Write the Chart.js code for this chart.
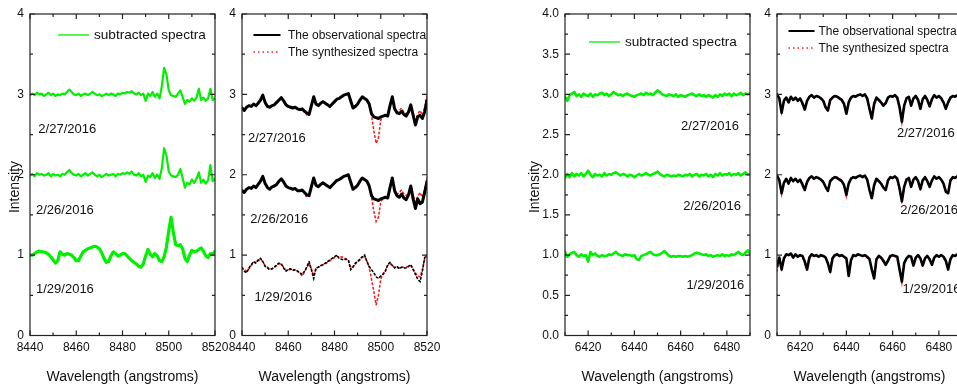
<!DOCTYPE html>
<html>
<head>
<meta charset="utf-8">
<script src="https://cdn.jsdelivr.net/npm/chart.js@4.4.1/dist/chart.umd.min.js"></script>
<style>
  html, body { margin: 0; padding: 0; background: #fff; width: 957px; height: 392px; overflow: hidden; position: relative; }
  canvas { position: absolute; left: 0; top: 0; }
</style>
</head>
<body>
<canvas id="p1" width="980" height="392"></canvas>
<canvas id="p2" width="980" height="392"></canvas>
<canvas id="p3" width="980" height="392"></canvas>
<canvas id="p4" width="980" height="392"></canvas>
<script>
// ---- wavelength grids (angstroms) ----
const wlCa = [8440,8441,8442,8443,8444,8445,8446,8447,8448,8449,
  8450,8451,8452,8453,8454,8455,8456,8457,8458,8459,
  8460,8461,8462,8463,8464,8465,8466,8467,8468,8469,
  8470,8471,8472,8473,8474,8475,8476,8477,8478,8479,
  8480,8481,8482,8483,8484,8485,8486,8487,8488,8489,
  8490,8491,8492,8493,8494,8495,8496,8497,8498,8499,
  8500,8501,8502,8503,8504,8505,8506,8507,8508,8509,
  8510,8511,8512,8513,8514,8515,8516,8517,8518,8519,8520];
const wlHa = [6410,6411,6412,6413,6414,6415,6416,6417,6418,6419,
  6420,6421,6422,6423,6424,6425,6426,6427,6428,6429,
  6430,6431,6432,6433,6434,6435,6436,6437,6438,6439,
  6440,6441,6442,6443,6444,6445,6446,6447,6448,6449,
  6450,6451,6452,6453,6454,6455,6456,6457,6458,6459,
  6460,6461,6462,6463,6464,6465,6466,6467,6468,6469,
  6470,6471,6472,6473,6474,6475,6476,6477,6478,6479,
  6480,6481,6482,6483,6484,6485,6486,6487,6488,6489,6490];

const dates = ['2/27/2016', '2/26/2016', '1/29/2016'];

// ---- tick values ----
const caTicks = [8440, 8460, 8480, 8500, 8520];
const haTicks = [6420, 6440, 6460, 6480];
const intTicks = [0, 1, 2, 3, 4];
const halfTicks = [0, 0.5, 1, 1.5, 2, 2.5, 3, 3.5, 4];

// ---- Ca II region: subtracted spectra (offset by night) ----
const caSub0227 = [2.99,3.01,2.99,3.02,3.00,3.01,2.98,3.00,3.02,2.99,
  3.01,2.98,3.00,2.99,3.01,3.00,3.03,3.06,3.03,3.00,
  2.99,3.01,2.98,3.00,3.01,2.99,3.01,3.03,3.01,2.99,
  3.00,2.98,2.99,3.01,2.99,3.01,3.00,2.98,3.01,3.00,
  3.02,3.01,3.03,3.02,3.04,3.01,3.00,3.02,2.99,3.01,
  2.92,3.01,2.98,3.03,2.97,3.01,2.95,3.10,3.33,3.25,
  3.05,2.99,2.98,2.97,3.01,3.05,2.97,2.88,2.93,2.91,
  2.95,2.92,2.96,3.07,2.93,2.96,2.92,2.95,3.07,2.93,2.95];
const caSub0226 = [1.99,2.01,1.98,2.02,2.00,2.01,1.99,2.00,2.02,1.98,
  2.01,1.99,2.00,1.98,2.01,2.00,2.03,2.06,2.02,2.00,
  1.99,2.01,1.98,2.00,2.02,1.99,2.01,2.03,2.00,1.98,
  2.00,1.97,1.99,2.01,1.99,2.00,2.01,1.98,2.01,2.00,
  2.02,2.01,2.03,2.01,2.04,2.00,1.99,2.02,1.98,2.00,
  1.91,1.99,1.97,2.02,1.96,2.00,1.95,2.08,2.33,2.24,
  2.04,1.99,1.98,1.97,2.00,2.07,1.96,1.84,1.90,1.88,
  1.94,1.90,1.95,2.03,1.90,1.94,1.89,1.93,2.12,1.92,1.95];
const caSub0129 = [1.00,1.00,1.02,1.04,1.05,1.04,1.04,1.03,1.01,0.98,
  0.94,0.90,0.93,1.04,1.01,1.00,1.02,1.01,1.00,0.97,
  0.93,0.93,0.99,1.04,1.06,1.08,1.09,1.10,1.11,1.10,
  1.08,1.03,0.96,0.91,0.92,0.99,1.04,1.02,0.99,1.00,
  1.02,1.02,0.99,0.96,0.93,0.91,0.89,0.86,0.85,0.89,
  0.99,1.07,1.01,0.98,1.02,0.99,0.93,0.92,0.98,1.10,
  1.30,1.47,1.28,1.13,1.12,1.13,1.08,0.96,0.92,1.00,
  1.06,1.04,1.05,1.07,1.09,1.05,0.99,0.97,1.02,1.01,1.05];

// ---- Ca II region: observed and synthesized spectra ----
const caObs0227 = [2.83,2.80,2.84,2.86,2.85,2.88,2.86,2.89,2.93,2.99,
  2.90,2.85,2.84,2.86,2.87,2.90,2.93,2.96,2.92,2.87,
  2.85,2.84,2.83,2.84,2.82,2.81,2.82,2.79,2.77,2.75,
  2.86,2.97,2.88,2.86,2.89,2.91,2.89,2.87,2.85,2.88,
  2.91,2.94,2.95,2.97,2.99,3.00,3.01,2.92,2.83,2.85,
  2.88,2.93,2.97,2.95,2.93,2.88,2.76,2.72,2.71,2.70,
  2.72,2.73,2.74,2.73,2.86,2.97,2.82,2.77,2.76,2.79,
  2.75,2.73,2.78,2.87,2.74,2.62,2.72,2.74,2.70,2.78,2.93];
const caSyn0227 = [2.84,2.82,2.84,2.85,2.86,2.87,2.87,2.90,2.94,2.98,
  2.91,2.86,2.85,2.85,2.88,2.90,2.92,2.95,2.92,2.88,
  2.85,2.84,2.84,2.83,2.83,2.81,2.81,2.80,2.74,2.76,
  2.86,2.96,2.89,2.87,2.88,2.90,2.90,2.87,2.86,2.88,
  2.90,2.93,2.95,2.96,2.98,3.00,3.00,2.93,2.84,2.86,
  2.88,2.92,2.96,2.95,2.92,2.87,2.74,2.55,2.39,2.46,
  2.68,2.73,2.74,2.75,2.85,2.95,2.84,2.78,2.80,2.83,
  2.78,2.76,2.79,2.85,2.76,2.68,2.75,2.80,2.74,2.84,2.98];
const caObs0226 = [1.80,1.78,1.82,1.84,1.83,1.86,1.84,1.88,1.92,1.98,
  1.89,1.84,1.82,1.85,1.86,1.88,1.92,1.95,1.91,1.86,
  1.84,1.83,1.82,1.83,1.80,1.80,1.81,1.78,1.75,1.74,
  1.85,1.96,1.87,1.85,1.88,1.90,1.88,1.86,1.84,1.87,
  1.90,1.93,1.94,1.96,1.98,1.99,2.00,1.91,1.82,1.84,
  1.87,1.92,1.96,1.94,1.92,1.86,1.74,1.70,1.69,1.68,
  1.70,1.71,1.72,1.71,1.84,1.96,1.80,1.74,1.72,1.76,
  1.71,1.69,1.75,1.86,1.70,1.58,1.70,1.64,1.66,1.78,1.92];
const caSyn0226 = [1.81,1.80,1.82,1.84,1.84,1.86,1.86,1.89,1.93,1.97,
  1.90,1.85,1.84,1.84,1.87,1.89,1.91,1.94,1.91,1.87,
  1.84,1.83,1.83,1.82,1.81,1.80,1.80,1.78,1.72,1.76,
  1.86,1.95,1.88,1.86,1.87,1.89,1.89,1.86,1.85,1.87,
  1.89,1.92,1.94,1.95,1.97,1.99,1.99,1.92,1.83,1.85,
  1.87,1.91,1.95,1.94,1.91,1.86,1.72,1.55,1.42,1.47,
  1.66,1.71,1.72,1.73,1.83,1.94,1.82,1.76,1.78,1.81,
  1.76,1.74,1.77,1.83,1.74,1.66,1.73,1.78,1.72,1.82,1.96];
const caObs0129 = [0.84,0.80,0.78,0.84,0.88,0.92,0.90,0.94,0.96,0.92,
  0.86,0.84,0.82,0.83,0.85,0.88,0.90,0.89,0.84,0.80,
  0.82,0.83,0.81,0.82,0.80,0.78,0.76,0.80,0.85,0.92,
  0.82,0.71,0.84,0.85,0.87,0.88,0.90,0.92,0.94,0.96,
  0.98,1.00,0.96,0.95,0.94,0.95,0.94,0.82,0.85,0.90,
  0.92,0.95,0.98,1.00,0.92,0.86,0.82,0.78,0.73,0.71,
  0.74,0.76,0.80,0.88,0.91,0.87,0.84,0.86,0.83,0.85,
  0.84,0.84,0.86,0.88,0.82,0.76,0.70,0.67,0.80,0.97,0.99];
const caSyn0129 = [0.85,0.82,0.80,0.83,0.87,0.91,0.91,0.93,0.95,0.92,
  0.87,0.85,0.83,0.83,0.85,0.87,0.89,0.89,0.85,0.81,
  0.82,0.82,0.82,0.81,0.80,0.78,0.74,0.79,0.84,0.90,
  0.83,0.74,0.83,0.85,0.86,0.88,0.89,0.91,0.93,0.95,
  0.97,0.99,0.97,0.98,0.97,0.95,0.93,0.84,0.86,0.89,
  0.92,0.94,0.97,0.99,0.93,0.85,0.70,0.55,0.38,0.50,
  0.70,0.77,0.81,0.87,0.90,0.87,0.85,0.85,0.84,0.85,
  0.85,0.85,0.86,0.87,0.83,0.78,0.74,0.73,0.82,0.95,1.00];

// ---- H-alpha region: subtracted spectra ----
const haSub0227 = [2.97,2.92,2.99,3.01,3.03,2.98,3.00,2.97,3.01,2.99,
  2.98,3.01,2.97,3.00,2.99,3.01,3.02,2.99,3.01,2.98,
  3.00,3.03,3.01,2.99,3.00,2.98,3.00,3.01,2.99,2.98,
  2.97,2.99,3.00,3.01,2.99,3.02,3.00,3.01,2.99,3.02,
  3.05,3.03,3.00,2.99,2.98,3.00,2.99,2.98,3.00,2.97,
  2.99,2.98,2.97,2.99,3.00,3.01,2.99,2.98,3.00,2.98,
  2.99,2.97,2.99,2.98,2.96,2.99,2.97,3.00,2.98,3.01,
  2.99,3.01,2.98,3.01,2.99,3.00,3.02,2.99,3.01,3.00,3.01];
const haSub0226 = [1.96,2.01,1.97,2.02,1.98,2.01,1.99,2.02,1.98,2.01,
  2.05,2.00,1.97,2.01,1.99,2.00,1.98,2.02,1.99,2.01,
  2.00,2.02,2.03,2.01,1.99,2.01,2.00,1.98,2.00,1.99,
  1.97,1.99,2.01,1.99,2.00,2.02,2.00,1.99,2.01,2.02,
  2.04,2.01,1.99,1.98,2.00,1.99,1.98,1.99,1.98,2.00,
  1.99,1.98,2.00,1.99,2.01,1.98,2.00,2.01,1.98,2.00,
  1.99,2.01,1.98,2.00,1.97,2.01,1.99,2.02,1.99,2.01,
  2.00,2.02,1.99,2.01,2.00,2.02,1.99,2.01,2.03,2.00,2.01];
const haSub0129 = [1.04,0.98,1.01,1.03,1.04,1.00,0.98,1.01,0.99,1.00,
  0.92,1.04,1.00,1.02,0.99,0.98,1.00,0.99,0.99,1.01,
  1.00,1.02,1.04,1.01,1.00,0.99,1.01,1.00,1.00,0.99,
  1.00,0.95,0.94,0.99,1.00,1.01,1.03,1.04,1.01,1.00,
  1.00,1.01,1.03,1.05,1.02,0.99,0.98,0.99,0.98,0.99,
  0.99,0.98,0.99,0.98,0.99,1.00,1.02,1.03,1.02,1.01,
  1.00,1.01,0.99,1.00,0.98,0.99,1.00,0.99,1.01,0.99,
  1.00,0.99,1.01,1.00,1.02,1.04,1.01,1.00,1.03,1.06,1.02];

// ---- H-alpha region: observed and synthesized spectra ----
const haObs0227 = [3.00,2.95,2.77,2.92,2.96,2.90,2.97,2.93,2.96,2.92,
  2.95,2.89,2.81,2.92,2.97,2.99,2.96,2.98,2.97,2.95,
  2.92,2.84,2.80,2.93,2.96,2.98,2.97,2.95,2.93,2.88,
  2.76,2.90,2.96,2.98,2.97,2.99,3.00,2.98,3.00,2.95,
  2.82,2.70,2.88,2.96,2.93,2.90,2.86,2.89,2.96,2.98,
  2.97,2.99,2.96,2.84,2.66,2.86,2.95,2.97,2.86,2.95,
  2.98,2.93,2.82,2.94,2.98,2.93,2.85,2.94,2.99,2.96,
  2.98,2.95,2.90,2.82,2.90,2.96,2.98,2.97,2.99,2.98,3.00];
const haSyn0227 = [3.00,2.96,2.78,2.93,2.97,2.92,2.96,2.94,2.95,2.93,
  2.94,2.88,2.82,2.93,2.97,2.98,2.97,2.98,2.96,2.95,
  2.93,2.85,2.79,2.92,2.97,2.98,2.98,2.96,2.94,2.89,
  2.75,2.91,2.97,2.98,2.98,2.99,2.99,2.99,2.99,2.94,
  2.81,2.69,2.89,2.95,2.94,2.91,2.87,2.90,2.95,2.98,
  2.98,2.98,2.95,2.83,2.65,2.87,2.96,2.96,2.87,2.94,
  2.97,2.94,2.83,2.93,2.97,2.94,2.86,2.93,2.98,2.97,
  2.97,2.96,2.91,2.83,2.91,2.95,2.97,2.98,2.98,2.99,2.99];
const haObs0226 = [1.99,1.93,1.77,1.90,1.95,1.89,1.96,1.92,1.95,1.91,
  1.94,1.88,1.81,1.91,1.96,1.98,1.95,1.97,1.96,1.94,
  1.91,1.85,1.80,1.92,1.95,1.97,1.96,1.94,1.92,1.87,
  1.75,1.89,1.95,1.97,1.96,1.98,1.99,1.97,1.99,1.94,
  1.81,1.71,1.87,1.95,1.92,1.89,1.84,1.81,1.93,1.97,
  1.96,1.98,1.95,1.83,1.67,1.85,1.94,1.96,1.85,1.94,
  1.97,1.92,1.82,1.93,1.97,1.92,1.85,1.93,1.98,1.95,
  1.97,1.94,1.89,1.79,1.77,1.93,1.97,1.96,1.98,1.97,1.99];
const haSyn0226 = [1.99,1.94,1.76,1.91,1.95,1.90,1.95,1.93,1.94,1.92,
  1.93,1.87,1.80,1.92,1.96,1.97,1.96,1.97,1.95,1.94,
  1.92,1.84,1.79,1.91,1.96,1.97,1.97,1.95,1.93,1.88,
  1.74,1.90,1.96,1.97,1.97,1.98,1.98,1.98,1.98,1.93,
  1.80,1.69,1.88,1.94,1.93,1.90,1.85,1.82,1.92,1.97,
  1.97,1.97,1.94,1.82,1.64,1.86,1.95,1.95,1.86,1.93,
  1.96,1.93,1.83,1.92,1.96,1.93,1.86,1.92,1.97,1.96,
  1.96,1.95,1.90,1.80,1.78,1.92,1.96,1.97,1.97,1.98,1.99];
const haObs0129 = [0.86,0.97,0.82,0.96,1.01,1.00,1.02,0.97,1.01,0.98,
  1.00,0.99,0.92,0.82,0.97,1.01,0.99,1.00,0.98,1.00,
  0.99,0.97,0.90,0.79,0.96,1.00,1.01,0.99,1.00,0.98,
  0.96,0.74,0.94,1.00,0.99,1.01,1.00,0.99,1.00,0.98,
  0.95,0.82,0.71,0.95,0.99,0.97,0.93,0.88,0.93,0.99,
  1.00,0.99,0.98,0.82,0.67,0.90,0.96,0.99,0.98,0.87,
  0.97,1.00,0.96,0.87,0.96,0.99,0.95,0.88,0.97,1.00,
  0.98,1.00,0.98,0.93,0.82,0.95,1.00,0.99,1.01,0.99,1.00];
const haSyn0129 = [0.80,0.96,0.83,0.95,1.00,1.00,1.01,0.98,1.00,0.98,
  0.99,0.98,0.91,0.83,0.96,1.00,0.99,0.99,0.98,0.99,
  0.99,0.97,0.89,0.80,0.96,0.99,1.00,0.99,0.99,0.98,
  0.95,0.75,0.93,0.99,0.99,1.00,1.00,0.99,0.99,0.97,
  0.94,0.81,0.72,0.94,0.98,0.96,0.92,0.89,0.94,0.98,
  0.99,0.99,0.97,0.83,0.66,0.89,0.96,0.98,0.97,0.88,
  0.97,0.99,0.95,0.88,0.96,0.98,0.94,0.89,0.96,0.99,
  0.98,0.99,0.97,0.92,0.83,0.94,0.99,0.99,1.00,0.99,1.00];

// ---- drawing helpers ----
const FONT = "'Liberation Sans', Arial, Helvetica, sans-serif";
const W = 980, H = 392, X_AXIS_H = 56;
const GREEN = '#00f000', BLACK = '#000000', RED = '#ff1a1a';

Chart.defaults.font.family = FONT;
Chart.defaults.color = '#111';

function pts(wl, vals) { return wl.map((x, i) => ({ x: x, y: vals[i] })); }

function solid(wl, vals, color, width) {
  return { data: pts(wl, vals), borderColor: color, borderWidth: width, pointRadius: 0,
           tension: 0, fill: false, borderJoinStyle: 'round', borderCapStyle: 'round' };
}
function dotted(wl, vals, color, width, dash) {
  return { data: pts(wl, vals), borderColor: color, borderWidth: width, pointRadius: 0,
           tension: 0, fill: false, borderDash: dash, borderCapStyle: 'round' };
}

// frame with inward ticks on all four sides
const framePlugin = {
  id: 'frame',
  afterDatasetsDraw(chart, args, o) {
    const { ctx, chartArea: a, scales: { x, y } } = chart;
    ctx.save();
    ctx.strokeStyle = '#222';
    ctx.lineWidth = 1.2;
    ctx.strokeRect(a.left, a.top, a.right - a.left, a.bottom - a.top);
    ctx.beginPath();
    const isMajor = (v, list) => list.some(t => Math.abs(t - v) < 1e-6);
    for (let v = x.min; v <= x.max + 1e-6; v += o.xStep) {
      const px = x.getPixelForValue(v);
      const len = isMajor(v, o.xMajor) ? 5 : 3;
      ctx.moveTo(px, a.bottom); ctx.lineTo(px, a.bottom - len);
      ctx.moveTo(px, a.top); ctx.lineTo(px, a.top + len);
    }
    for (let v = y.min; v <= y.max + 1e-6; v += o.yStep) {
      const py = y.getPixelForValue(v);
      const len = isMajor(v, o.yMajor) ? 5 : 3;
      ctx.moveTo(a.left, py); ctx.lineTo(a.left + len, py);
      ctx.moveTo(a.right, py); ctx.lineTo(a.right - len, py);
    }
    ctx.stroke();
    ctx.restore();
  }
};

// legend samples, night labels and the vertical axis title
const notesPlugin = {
  id: 'notes',
  afterDatasetsDraw(chart, args, o) {
    const { ctx, chartArea: a, scales: { x, y } } = chart;
    ctx.save();
    (o.legend || []).forEach(it => {
      const yy = a.top + it.dy;
      ctx.beginPath();
      ctx.strokeStyle = it.color;
      ctx.lineWidth = it.width;
      ctx.setLineDash(it.dash || []);
      ctx.moveTo(a.left + it.x1, yy);
      ctx.lineTo(a.left + it.x2, yy);
      ctx.stroke();
      ctx.setLineDash([]);
      ctx.fillStyle = '#111';
      ctx.font = it.size + 'px ' + FONT;
      ctx.textAlign = 'left';
      ctx.textBaseline = 'middle';
      ctx.fillText(it.text, a.left + it.tx, yy + 0.5);
    });
    (o.labels || []).forEach(it => {
      ctx.fillStyle = '#111';
      ctx.font = '13px ' + FONT;
      ctx.textAlign = it.align;
      ctx.textBaseline = 'middle';
      ctx.fillText(it.text, x.getPixelForValue(it.x), y.getPixelForValue(it.y));
    });
    if (o.yTitle) {
      ctx.translate(o.yTitle.x, o.yTitle.y);
      ctx.rotate(-Math.PI / 2);
      ctx.font = '14px ' + FONT;
      ctx.fillStyle = '#111';
      ctx.textAlign = 'center';
      ctx.textBaseline = 'middle';
      ctx.fillText('Intensity', 0, 0);
    }
    ctx.restore();
  }
};

function makePanel(id, p) {
  const xTicks = p.xTicks, yTicks = p.yTicks;
  new Chart(document.getElementById(id), {
    type: 'line',
    data: { datasets: p.datasets },
    options: {
      responsive: false, animation: false, devicePixelRatio: 1,
      layout: { padding: { left: p.box.l - p.yw, right: W - p.box.r, top: p.box.t, bottom: H - p.box.b - X_AXIS_H } },
      plugins: {
        legend: { display: false }, tooltip: { enabled: false },
        frame: { xStep: 10, xMajor: xTicks, yStep: p.yMinor, yMajor: yTicks },
        notes: { legend: p.legend, labels: p.labels, yTitle: p.yTitle }
      },
      scales: {
        x: {
          type: 'linear', position: 'bottom', min: p.xMin, max: p.xMax,
          grid: { display: false, drawTicks: false, tickLength: 0 },
          border: { display: false },
          afterBuildTicks: s => { s.ticks = xTicks.map(v => ({ value: v })); },
          afterFit: s => { s.height = X_AXIS_H; },
          ticks: { padding: 5, maxRotation: 0, autoSkip: false, color: '#111', font: { size: 12 },
                   callback: v => String(v) },
          title: { display: true, text: 'Wavelength (angstroms)', color: '#111',
                   font: { size: 14 }, padding: { top: 0, bottom: 6 } }
        },
        y: {
          type: 'linear', min: 0, max: 4,
          grid: { display: false, drawTicks: false, tickLength: 0 },
          border: { display: false },
          afterBuildTicks: s => { s.ticks = yTicks.map(v => ({ value: v })); },
          afterFit: s => { s.width = p.yw; },
          ticks: { padding: 6, color: '#111', font: { size: 12 },
                   callback: v => p.yFmt ? Number(v).toFixed(1) : String(v) }
        }
      }
    },
    plugins: [framePlugin, notesPlugin]
  });
}

// Ca II subtracted spectra
makePanel('p1', {
  box: { l: 30, r: 215, t: 14, b: 335.5 }, yw: 30,
  xMin: 8440, xMax: 8520, xTicks: caTicks, yTicks: intTicks, yMinor: 0.5,
  yTitle: { x: 15, y: 187 },
  datasets: [
    solid(wlCa, caSub0227, GREEN, 2.2),
    solid(wlCa, caSub0226, GREEN, 2.2),
    solid(wlCa, caSub0129, GREEN, 3.2)
  ],
  legend: [{ x1: 28, x2: 59, dy: 21, width: 1.3, color: GREEN, text: 'subtracted spectra', tx: 64, size: 13.6 }],
  labels: [
    { text: dates[0], x: 8443.6, y: 2.565, align: 'left' },
    { text: dates[1], x: 8442.6, y: 1.553, align: 'left' },
    { text: dates[2], x: 8442.6, y: 0.575, align: 'left' }
  ]
});

// Ca II observed vs synthesized (observed drawn on top)
makePanel('p2', {
  box: { l: 242, r: 427, t: 14, b: 335.5 }, yw: 25,
  xMin: 8440, xMax: 8520, xTicks: caTicks, yTicks: intTicks, yMinor: 0.5,
  datasets: [
    solid(wlCa, caObs0227, BLACK, 3),
    solid(wlCa, caObs0226, BLACK, 3),
    dotted(wlCa, caObs0129, BLACK, 1.6, [1.6, 2.6]),
    dotted(wlCa, caSyn0227, RED, 1.6, [1.5, 3]),
    dotted(wlCa, caSyn0226, RED, 1.6, [1.5, 3]),
    dotted(wlCa, caSyn0129, RED, 1.6, [1.5, 3])
  ],
  legend: [
    { x1: 11.5, x2: 38.5, dy: 21, width: 2, color: BLACK, text: 'The observational spectra', tx: 46, size: 12 },
    { x1: 11.5, x2: 38.5, dy: 38, width: 1.6, color: RED, dash: [1.5, 3], text: 'The synthesized spectra', tx: 46, size: 12 }
  ],
  labels: [
    { text: dates[0], x: 8442.6, y: 2.455, align: 'left' },
    { text: dates[1], x: 8443.6, y: 1.448, align: 'left' },
    { text: dates[2], x: 8445.4, y: 0.478, align: 'left' }
  ]
});

// H-alpha subtracted spectra
makePanel('p3', {
  box: { l: 565, r: 750, t: 14, b: 335.5 }, yw: 40, yFmt: true,
  xMin: 6410, xMax: 6490, xTicks: haTicks, yTicks: halfTicks, yMinor: 0.25,
  yTitle: { x: 535, y: 187 },
  datasets: [
    solid(wlHa, haSub0227, GREEN, 2.6),
    solid(wlHa, haSub0226, GREEN, 2.6),
    solid(wlHa, haSub0129, GREEN, 2.6)
  ],
  legend: [{ x1: 24, x2: 55, dy: 28, width: 1.3, color: GREEN, text: 'subtracted spectra', tx: 60, size: 13.6 }],
  labels: [
    { text: dates[0], x: 6485.2, y: 2.60, align: 'right' },
    { text: dates[1], x: 6486.1, y: 1.604, align: 'right' },
    { text: dates[2], x: 6487.5, y: 0.628, align: 'right' }
  ]
});

// H-alpha observed vs synthesized (observed drawn on top)
makePanel('p4', {
  box: { l: 777, r: 962, t: 14, b: 335.5 }, yw: 25,
  xMin: 6410, xMax: 6490, xTicks: haTicks, yTicks: intTicks, yMinor: 0.5,
  datasets: [
    solid(wlHa, haObs0227, BLACK, 2.6),
    solid(wlHa, haObs0226, BLACK, 2.6),
    solid(wlHa, haObs0129, BLACK, 2.6),
    dotted(wlHa, haSyn0227, RED, 1.6, [1.5, 3]),
    dotted(wlHa, haSyn0226, RED, 1.6, [1.5, 3]),
    dotted(wlHa, haSyn0129, RED, 1.6, [1.5, 3])
  ],
  legend: [
    { x1: 11.5, x2: 37.5, dy: 17, width: 2, color: BLACK, text: 'The observational spectra', tx: 41.5, size: 12 },
    { x1: 11.5, x2: 37.5, dy: 34, width: 1.6, color: RED, dash: [1.5, 3], text: 'The synthesized spectra', tx: 41.5, size: 12 }
  ],
  labels: [
    { text: dates[0], x: 6461.9, y: 2.51, align: 'left' },
    { text: dates[1], x: 6463.3, y: 1.555, align: 'left' },
    { text: dates[2], x: 6464.3, y: 0.577, align: 'left' }
  ]
});
</script>
</body>
</html>
